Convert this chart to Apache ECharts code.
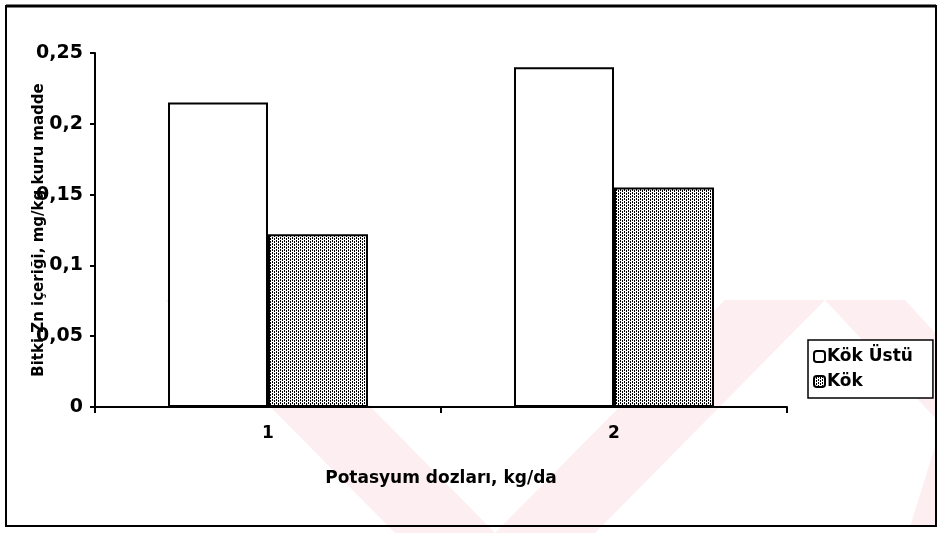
<!DOCTYPE html>
<html>
<head>
<meta charset="utf-8">
<script src="https://cdn.jsdelivr.net/npm/echarts@6/dist/echarts.min.js"></script>
<style>
  html, body { margin: 0; padding: 0; background: #fff; }
  #chart { width: 939px; height: 533px; }
</style>
</head>
<body>
<div id="chart"></div>
<script>
// Potassium doses on the category axis
const categories = ['1', '2'];
// Plant Zn content, mg/kg dry matter
const kokUstu = [0.215, 0.240];   // shoot
const kok = [0.122, 0.155];       // root
const seriesNames = ['Kök Üstü', 'Kök'];

// Dotted fill used for the root bars
function dotPattern() {
  const c = document.createElement('canvas');
  c.width = 4; c.height = 3;
  const g = c.getContext('2d');
  g.fillStyle = '#ffffff';
  g.fillRect(0, 0, 4, 3);
  g.fillStyle = '#000000';
  g.fillRect(0, 0, 1, 1);
  g.fillRect(0, 1, 1, 1);
  g.fillRect(2, 1, 1, 1);
  g.fillRect(2, 2, 1, 1);
  return c;
}
const dotted = { image: dotPattern(), repeat: 'repeat' };

const FONT = '"DejaVu Sans", "Liberation Sans", Arial, sans-serif';
const chart = echarts.init(document.getElementById('chart'), null, { renderer: 'canvas' });

// Faint chevron shading in the lower background
const pink = '#fdeef1';
function band(pts) {
  return { type: 'polygon', z: -10, silent: true, shape: { points: pts }, style: { fill: pink } };
}

chart.setOption({
  backgroundColor: '#ffffff',
  animation: false,
  graphic: [
    band([[165, 300], [265, 300], [495, 533], [395, 533]]),
    band([[725, 300], [825, 300], [595, 533], [495, 533]]),
    band([[825, 300], [905, 300], [937, 335], [937, 420]]),
    band([[937, 440], [937, 527], [910, 527]]),
    { type: 'rect', z: 100, silent: true,
      shape: { x: 6, y: 6, width: 930, height: 520 },
      style: { fill: 'none', stroke: '#000', lineWidth: 2 } },
    { type: 'line', z: 100, silent: true,
      shape: { x1: 6, y1: 6, x2: 936, y2: 6 },
      style: { stroke: '#000', lineWidth: 3 } }
  ],
  grid: { left: 95, right: 152, top: 53, bottom: 126 },
  legend: {
    orient: 'vertical',
    left: 808, top: 340,
    padding: [8, 20, 8, 5],
    itemGap: 8,
    itemWidth: 11, itemHeight: 11,
    borderColor: '#000', borderWidth: 1.5,
    backgroundColor: '#fff',
    textStyle: { fontFamily: FONT, fontWeight: 'bold', fontSize: 17, color: '#000', padding: [0, 0, 0, -3] },
    data: seriesNames
  },
  xAxis: {
    type: 'category',
    data: categories,
    name: 'Potasyum dozları, kg/da',
    nameLocation: 'middle',
    nameGap: 63,
    nameMoveOverlap: false,
    nameTextStyle: { fontFamily: FONT, fontWeight: 'bold', fontSize: 17, color: '#000' },
    axisLine: { lineStyle: { color: '#000', width: 2 } },
    axisTick: { show: true, length: 6, lineStyle: { color: '#000', width: 2 } },
    axisLabel: { fontFamily: FONT, fontWeight: 'bold', fontSize: 17, color: '#000', margin: 18 }
  },
  yAxis: {
    type: 'value',
    min: 0, max: 0.25, interval: 0.05,
    name: 'Bitki Zn içeriği, mg/kg kuru madde',
    nameLocation: 'middle',
    nameGap: 48,
    nameRotate: 90,
    nameMoveOverlap: false,
    nameTextStyle: { fontFamily: FONT, fontWeight: 'bold', fontSize: 15, color: '#000' },
    splitLine: { show: false },
    axisLine: { show: true, lineStyle: { color: '#000', width: 2 } },
    axisTick: { show: true, length: 5, lineStyle: { color: '#000', width: 2 } },
    axisLabel: {
      fontFamily: FONT, fontWeight: 'bold', fontSize: 19, color: '#000', margin: 12,
      formatter: v => String(+v.toFixed(2)).replace('.', ',')
    }
  },
  series: [
    {
      name: seriesNames[0], type: 'bar', data: kokUstu,
      barWidth: 100, barGap: '0%',
      itemStyle: { color: '#ffffff', borderColor: '#000', borderWidth: 2 }
    },
    {
      name: seriesNames[1], type: 'bar', data: kok,
      barWidth: 100, barGap: '0%',
      itemStyle: { color: dotted, borderColor: '#000', borderWidth: 2 }
    }
  ]
});
</script>
</body>
</html>
